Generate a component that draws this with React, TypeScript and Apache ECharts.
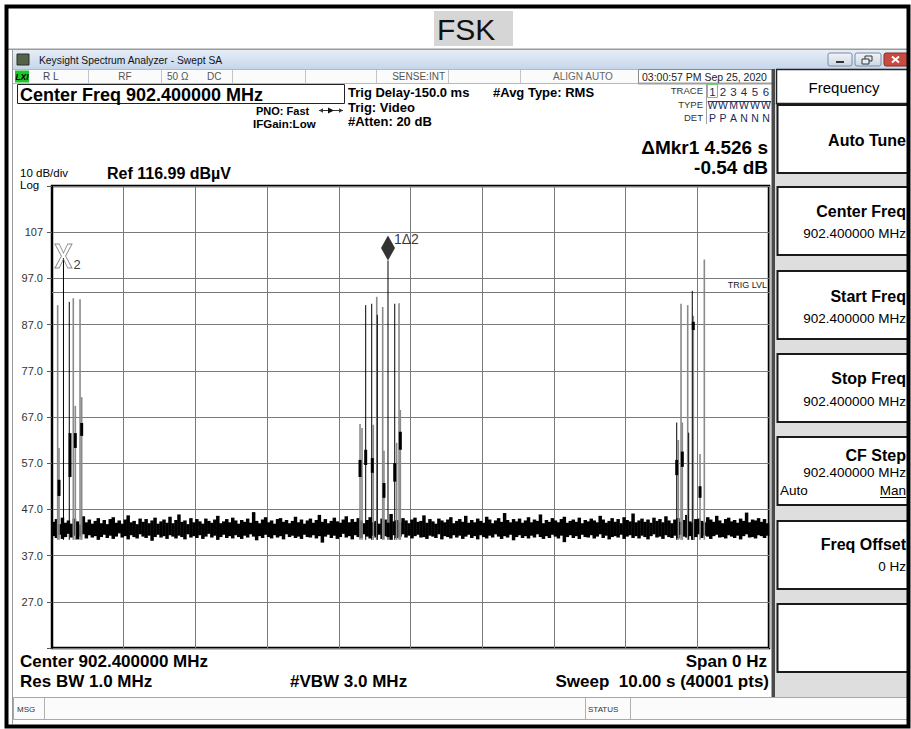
import { useEffect, useRef } from "react";
import * as echarts from "echarts";

// ---- data ----
const refLevel = 116.99;
const bottomLevel = 16.99;
const sweepSeconds = 10;
const floorLevel = 40.4;
const trigLevel = 94.1;
const yTickValues = [27, 37, 47, 57, 67, 77, 87, 97, 107];
const yTickLabels = ["27.0", "37.0", "47.0", "57.0", "67.0", "77.0", "87.0", "97.0", "107"];

// noise floor envelope (dB\u00b5V): upper and lower edge of each of 240 columns across the 10 s sweep
const noiseTop = [
  44.3,44.9,43.8,45.2,44.1,44.6,43.9,45.0,44.4,43.7,45.5,44.2,44.8,43.9,44.5,45.1,44.0,44.7,43.8,44.9,
  45.3,44.1,44.6,43.9,44.8,45.7,44.2,44.5,43.8,45.0,44.3,44.9,44.0,44.6,45.2,43.9,44.4,44.8,44.1,45.4,
  44.0,44.7,45.9,44.3,44.6,43.8,45.1,44.2,44.9,44.4,43.9,45.0,44.5,44.1,44.8,45.6,44.0,44.4,44.9,44.2,
  45.2,44.6,43.9,44.7,44.3,45.0,44.1,46.4,44.5,44.0,44.8,45.3,44.2,44.6,43.9,44.9,45.1,44.3,44.7,44.0,
  44.5,45.4,44.2,44.8,43.9,44.6,45.0,44.1,44.7,45.8,44.3,44.9,44.0,44.5,45.2,44.4,44.1,44.8,45.5,44.2,
  44.9,44.3,45.1,44.6,44.0,44.7,45.3,44.2,44.5,43.9,45.0,44.8,44.1,46.0,44.4,44.7,44.2,45.1,44.6,44.0,
  44.8,45.2,44.3,44.5,45.7,44.1,44.9,44.4,43.9,45.0,44.6,44.2,44.8,45.3,44.0,44.5,44.9,44.3,45.6,44.1,
  44.7,44.2,45.0,44.5,44.1,45.4,44.8,44.0,44.6,45.1,44.3,46.2,44.7,44.2,44.9,44.4,45.0,44.1,44.6,45.3,
  44.2,44.8,44.5,45.9,44.0,44.7,44.3,45.1,44.6,44.2,44.9,45.4,44.1,44.5,44.8,44.3,45.2,44.0,44.7,44.4,
  45.0,44.6,44.2,45.6,44.8,44.1,44.5,45.1,44.3,44.9,44.0,45.3,44.7,44.4,46.1,44.2,44.6,45.0,44.3,44.8,
  44.1,45.2,44.5,44.9,44.2,45.5,44.6,44.0,44.8,45.1,44.3,44.7,45.8,44.4,44.1,44.9,45.0,44.5,44.2,45.3,
  44.8,44.3,45.6,44.6,44.0,44.9,45.2,44.4,44.7,44.1,45.0,44.5,46.3,44.2,44.8,44.6,45.1,44.3,44.9,44.0,
];
const noiseBottom = [
  41.2,40.8,41.5,40.6,41.0,41.7,40.9,41.3,40.5,41.1,41.6,40.7,41.4,40.9,41.2,40.4,41.0,41.5,40.8,41.3,
  40.6,41.1,41.8,40.9,41.2,40.5,41.4,41.0,40.7,41.6,41.1,40.8,41.3,40.2,41.0,41.5,40.9,41.2,40.6,41.4,
  41.1,40.7,41.3,41.0,40.5,41.6,40.9,41.2,40.8,41.4,40.6,41.1,41.7,40.9,41.3,40.4,41.0,41.5,40.8,41.2,
  40.7,41.4,41.0,40.6,41.3,40.9,41.6,41.1,40.3,41.2,40.8,41.5,41.0,40.7,41.4,40.9,41.2,40.5,41.6,41.0,
  41.3,40.8,41.1,40.6,41.5,41.0,40.9,41.4,40.7,41.2,39.8,41.1,41.5,40.8,41.3,40.6,41.0,41.7,40.9,41.2,
  40.5,41.4,41.0,40.8,41.6,41.1,40.7,41.3,40.9,41.5,40.6,41.2,41.0,40.4,41.4,40.8,41.1,41.6,40.9,41.3,
  40.7,41.2,41.5,40.9,41.0,40.6,41.3,41.1,40.8,41.6,40.5,41.2,41.0,40.7,41.4,40.9,41.3,40.6,41.1,41.5,
  40.8,41.2,40.5,41.4,41.0,40.7,41.3,40.9,41.6,41.1,40.6,41.2,40.9,41.5,40.3,41.0,41.4,40.8,41.2,40.7,
  41.3,40.9,41.6,41.0,40.6,41.2,40.8,41.5,41.1,40.7,41.3,39.9,41.0,41.4,40.8,41.2,40.6,41.5,41.0,40.9,
  41.4,40.7,41.1,41.6,40.8,41.3,40.5,41.0,41.2,40.9,41.5,40.6,41.1,41.4,40.8,41.2,40.7,41.3,41.0,40.5,
  41.2,41.6,40.9,41.1,40.6,41.4,41.0,40.8,41.3,40.7,41.5,41.1,40.9,41.2,40.4,41.0,41.6,40.8,41.3,41.1,
  40.6,41.2,41.5,40.9,41.0,40.7,41.4,41.1,40.8,41.3,40.5,41.2,41.6,40.9,41.0,40.7,41.4,41.2,40.8,41.3,
];

// FSK burst lines: time (s), peak (dB\u00b5V), tone (g = grey trace, k = black trace)
const burstTimes = [
  0.079, 0.098, 0.160, 0.241, 0.297, 0.325, 0.391, 0.414,
  4.296, 4.324, 4.375, 4.459, 4.481, 4.529, 4.537, 4.612, 4.630, 4.686, 4.780, 4.807, 4.840, 4.858,
  8.713, 8.735, 8.773, 8.791, 8.866, 8.880, 8.930, 8.944, 9.038, 9.098,
];
const burstPeaks = [
  91.2, 60.3, 101.4, 91.9, 92.7, 69.4, 92.5, 71.3,
  65.5, 64.6, 91.2, 91.5, 65.3, 93.0, 89.1, 90.8, 59.7, 100.86, 91.5, 61.4, 91.6, 68.5,
  65.8, 62.0, 91.5, 65.8, 91.2, 63.6, 94.3, 88.9, 59.0, 101.1,
];
const burstTones = [
  "g", "g", "k", "k", "g", "g", "g", "g",
  "g", "g", "k", "k", "g", "g", "k", "g", "g", "k", "k", "g", "g", "g",
  "k", "g", "g", "g", "g", "k", "k", "g", "g", "g",
];

// short dense (thick) trace segments
const segTimes = [0.098, 0.251, 0.325, 0.414, 4.296, 4.375, 4.467, 4.630, 4.780, 4.858, 8.713, 8.791, 8.944, 9.038];
const segLows = [49.9, 54.0, 60.3, 62.9, 54.0, 56.6, 54.9, 49.5, 53.0, 59.9, 54.4, 56.2, 85.8, 49.5];
const segHighs = [53.4, 63.5, 63.5, 65.7, 57.7, 59.9, 58.1, 52.7, 57.0, 63.8, 57.7, 59.5, 87.6, 52.0];

const marker2 = [0.16, 101.4];
const marker1 = [4.686, 100.86];

const F = '"Liberation Sans", Arial, sans-serif';

function txt(text: string, x: number, y: number, size: number, opt: any = {}) {
  return {
    type: "text",
    x,
    y,
    z: 20,
    silent: true,
    style: {
      text,
      font: `${opt.italic ? "italic " : ""}${opt.bold ? "bold " : ""}${size}px ${opt.family || F}`,
      fill: opt.fill || "#000",
      textAlign: opt.align || "left",
      textVerticalAlign: "middle",
    },
  };
}
function rect(x: number, y: number, w: number, h: number, style: any, z = 1) {
  return { type: "rect", z, silent: true, shape: { x, y, width: w, height: h }, style };
}
function ln(x1: number, y1: number, x2: number, y2: number, stroke: string, lineWidth = 1, z = 5) {
  return { type: "line", z, silent: true, shape: { x1, y1, x2, y2 }, style: { stroke, lineWidth } };
}

function buildGraphic() {
  const g: any[] = [];
  // title tag
  g.push(rect(434, 11, 79, 35, { fill: "#d6d6d6" }));
  g.push(txt("FSK", 437, 29, 30, { fill: "#111" }));
  g.push(rect(8, 48.5, 900, 1.5, { fill: "#9a9a9a" }));
  // window outline
  g.push(ln(12.5, 50, 12.5, 724, "#9a9a9a", 1));
  // title bar
  g.push(
    rect(12, 50, 896, 19, {
      fill: {
        type: "linear", x: 0, y: 0, x2: 0, y2: 1,
        colorStops: [{ offset: 0, color: "#e6eef8" }, { offset: 1, color: "#c6d6ea" }],
      },
    })
  );
  g.push(rect(17, 54, 12, 11, { fill: "#55624a", stroke: "#2b3326", lineWidth: 1 }));
  g.push(txt("Keysight Spectrum Analyzer - Swept SA", 39, 60, 10.3, { fill: "#111" }));
  const btnFill = {
    type: "linear", x: 0, y: 0, x2: 0, y2: 1,
    colorStops: [{ offset: 0, color: "#f2f5f9" }, { offset: 1, color: "#cdd6e2" }],
  };
  g.push({ type: "rect", z: 2, shape: { x: 828, y: 53, width: 24, height: 13, r: 2 }, style: { fill: btnFill, stroke: "#7d8ca3", lineWidth: 1 } });
  g.push(rect(836, 61, 8, 2, { fill: "#333" }, 3));
  g.push({ type: "rect", z: 2, shape: { x: 855, y: 53, width: 26, height: 13, r: 2 }, style: { fill: btnFill, stroke: "#7d8ca3", lineWidth: 1 } });
  g.push(rect(865, 56, 7, 5, { fill: "none", stroke: "#333", lineWidth: 1 }, 3));
  g.push(rect(862, 59, 7, 5, { fill: "#e9edf3", stroke: "#333", lineWidth: 1 }, 4));
  g.push({ type: "rect", z: 2, shape: { x: 884, y: 53, width: 24, height: 13, r: 2 }, style: { fill: "#c94b3f", stroke: "#8a2d25", lineWidth: 1 } });
  g.push(ln(892, 56.5, 899, 62.5, "#fff", 2, 3));
  g.push(ln(899, 56.5, 892, 62.5, "#fff", 2, 3));

  // status row
  g.push(rect(12.5, 69.5, 760, 14, { fill: "#fbfbfb", stroke: "#b8b8b8", lineWidth: 1 }));
  [88, 161, 232, 305, 376, 448, 520].forEach((x) => g.push(ln(x + 0.5, 70, x + 0.5, 83, "#c4c4c4", 1, 3)));
  g.push(rect(15, 70.5, 14, 12, { fill: "#1fc52a" }, 3));
  g.push(txt("LXI", 22, 76.5, 8.5, { bold: true, italic: true, align: "center" }));
  g.push(txt("R L", 43, 76.5, 10, { fill: "#444" }));
  g.push(txt("RF", 125, 76.5, 10, { fill: "#555", align: "center" }));
  g.push(txt("50 \u03a9", 167, 76.5, 10, { fill: "#555" }));
  g.push(txt("DC", 207, 76.5, 10, { fill: "#555" }));
  g.push(txt("SENSE:INT", 445, 76.5, 10, { fill: "#555", align: "right" }));
  g.push(txt("ALIGN AUTO", 553, 76.5, 10, { fill: "#666" }));
  g.push(rect(638.5, 69.5, 134, 14, { fill: "#fff", stroke: "#8a8a8a", lineWidth: 1 }, 2));
  g.push(txt("03:00:57 PM Sep 25, 2020", 642, 76.5, 10.5, { fill: "#222" }));
  g.push(rect(638, 82.5, 135, 2, { fill: "#a0a0a0" }, 3));

  // header
  g.push(rect(17.5, 84.5, 327, 19, { fill: "#fff", stroke: "#222", lineWidth: 1 }));
  g.push(txt("Center Freq 902.400000 MHz", 20, 94.5, 18, { bold: true }));
  g.push(txt("PNO: Fast", 256, 110.5, 11, { bold: true }));
  g.push(ln(319, 110.5, 343, 110.5, "#333", 1));
  g.push({ type: "polygon", z: 5, shape: { points: [[319, 110.5], [323, 108.3], [323, 112.7]] }, style: { fill: "#333" } });
  g.push({ type: "polygon", z: 5, shape: { points: [[343, 110.5], [339, 108.3], [339, 112.7]] }, style: { fill: "#333" } });
  g.push({ type: "polygon", z: 5, shape: { points: [[328, 107.5], [334, 110.5], [328, 113.5]] }, style: { fill: "#111" } });
  g.push(txt("IFGain:Low", 253, 123.5, 11.5, { bold: true }));
  g.push(txt("Trig Delay-150.0 ms", 348, 92, 13, { bold: true }));
  g.push(txt("Trig: Video", 348, 107, 13, { bold: true }));
  g.push(txt("#Atten: 20 dB", 348, 121.5, 13, { bold: true }));
  g.push(txt("#Avg Type: RMS", 493, 92, 13, { bold: true }));
  // trace block
  g.push(ln(706.5, 84, 706.5, 124, "#a0a0a0", 1));
  g.push(txt("TRACE", 703, 90.5, 9.5, { fill: "#333", align: "right" }));
  g.push(txt("TYPE", 703, 104, 9.5, { fill: "#333", align: "right" }));
  g.push(txt("DET", 703, 117.5, 9.5, { fill: "#333", align: "right" }));
  g.push(rect(707.5, 84.5, 10, 13, { fill: "none", stroke: "#6ccf6c", lineWidth: 1 }, 3));
  const tx = [712.5, 723, 733.5, 744, 755, 766];
  const nums = ["1", "2", "3", "4", "5", "6"];
  const typ = ["W", "W", "M", "W", "W", "W"];
  const det = ["P", "P", "A", "N", "N", "N"];
  tx.forEach((x, i) => {
    g.push(txt(nums[i], x, 91.5, 11.5, { fill: "#1a2a5a", align: "center" }));
    g.push(txt(typ[i], x, 104.5, 10.5, { fill: "#1a2a5a", align: "center" }));
    g.push(txt(det[i], x, 117.5, 10.5, { fill: "#1a2a5a", align: "center" }));
  });
  g.push(ln(708, 101.5, 771, 101.5, "#333", 1, 25));

  g.push(txt("\u0394Mkr1 4.526 s", 768, 147.5, 19, { bold: true, align: "right" }));
  g.push(txt("-0.54 dB", 768, 167.5, 19, { bold: true, align: "right" }));
  g.push(txt("10 dB/div", 20, 173, 11.5));
  g.push(txt("Log", 20, 184.5, 11.5));
  g.push(txt("Ref 116.99 dB\u00b5V", 107, 173, 16, { bold: true }));

  // right soft-key panel
  g.push(rect(775, 103, 134, 594, { fill: "#dedede" }));
  g.push(rect(771.5, 69, 3.5, 628, { fill: "#4a4a4a" }, 3));
  g.push(rect(776.5, 69.5, 132, 34, { fill: "#fff", stroke: "#222", lineWidth: 1.5 }, 2));
  g.push(txt("Frequency", 844, 87, 15, { align: "center" }));
  const tops = [105, 187, 271, 354, 437, 521, 604];
  tops.forEach((t) => g.push(rect(777.5, t, 131, 68, { fill: "#fff", stroke: "#1a1a1a", lineWidth: 2 }, 2)));
  g.push(txt("Auto Tune", 906, 140, 16, { bold: true, align: "right" }));
  g.push(txt("Center Freq", 906, 211, 16, { bold: true, align: "right" }));
  g.push(txt("902.400000 MHz", 906, 233, 13.5, { align: "right" }));
  g.push(txt("Start Freq", 906, 296, 16, { bold: true, align: "right" }));
  g.push(txt("902.400000 MHz", 906, 318, 13.5, { align: "right" }));
  g.push(txt("Stop Freq", 906, 378.5, 16, { bold: true, align: "right" }));
  g.push(txt("902.400000 MHz", 906, 401, 13.5, { align: "right" }));
  g.push(txt("CF Step", 906, 455, 16, { bold: true, align: "right" }));
  g.push(txt("902.400000 MHz", 906, 472.5, 13.5, { align: "right" }));
  g.push(txt("Auto", 780, 490, 13.5));
  g.push(txt("Man", 906, 490, 13.5, { align: "right" }));
  g.push(ln(880, 497.5, 906, 497.5, "#000", 1, 25));
  g.push(txt("Freq Offset", 906, 544, 16, { bold: true, align: "right" }));
  g.push(txt("0 Hz", 906, 566, 13.5, { align: "right" }));

  // bottom annotations
  g.push(txt("Center 902.400000 MHz", 20, 661, 17, { bold: true }));
  g.push(txt("Res BW 1.0 MHz", 20, 681, 17, { bold: true }));
  g.push(txt("#VBW 3.0 MHz", 290, 681, 17, { bold: true }));
  g.push(txt("Span 0 Hz", 767, 661, 17, { bold: true, align: "right" }));
  g.push(txt("Sweep  10.00 s (40001 pts)", 769, 681, 17, { bold: true, align: "right" }));

  // message bar
  g.push(rect(13.5, 697.5, 894, 22, { fill: "#fbfbfb", stroke: "#a8a8a8", lineWidth: 1 }, 2));
  [44, 585, 630].forEach((x) => g.push(ln(x + 0.5, 698, x + 0.5, 719, "#b0b0b0", 1, 3)));
  g.push(txt("MSG", 17, 709, 8, { fill: "#333" }));
  g.push(txt("STATUS", 588, 709, 8, { fill: "#333" }));

  // outer black frame
  g.push(rect(6.5, 6.5, 902, 720, { fill: "none", stroke: "#000", lineWidth: 4 }, 40));
  return g;
}

function lineRender(width: number, color: string) {
  return (params: any, api: any) => {
    const a = api.coord([api.value(0), api.value(1)]);
    const b = api.coord([api.value(0), api.value(2)]);
    return {
      type: "line",
      shape: { x1: a[0], y1: a[1], x2: b[0], y2: b[1] },
      style: { stroke: color, lineWidth: width },
    };
  };
}

export default function App() {
  const ref = useRef<HTMLDivElement>(null);
  useEffect(() => {
    if (!ref.current) return;
    const chart = echarts.init(ref.current, undefined, { renderer: "svg" });
    const n = noiseTop.length;
    const colStep = sweepSeconds / n;
    const noiseCols = noiseTop.map((v, i) => [(i + 0.5) * colStep, noiseBottom[i], v]);
    const noiseRender = (params: any, api: any) => {
      const a = api.coord([api.value(0), api.value(1)]);
      const b = api.coord([api.value(0), api.value(2)]);
      const w = api.size([colStep, 0])[0] + 0.5;
      return {
        type: "line",
        shape: { x1: a[0], y1: a[1], x2: b[0], y2: b[1] },
        style: { stroke: "#000", lineWidth: w },
      };
    };
    const grey: any[] = [];
    const black: any[] = [];
    burstTimes.forEach((t, i) => {
      const item = [t, floorLevel, burstPeaks[i]];
      if (burstTones[i] === "k") black.push(item);
      else grey.push(item);
    });
    const segs = segTimes.map((t, i) => [t, segLows[i], segHighs[i]]);

    chart.setOption({
      animation: false,
      backgroundColor: "#fff",
      grid: {
        left: 52, top: 186, width: 717, height: 462,
        show: true, borderColor: "#000", borderWidth: 2.5, backgroundColor: "transparent",
      },
      xAxis: {
        type: "value", min: 0, max: sweepSeconds, interval: 1,
        axisLine: { show: false }, axisTick: { show: false }, axisLabel: { show: false },
        splitLine: { show: true, lineStyle: { color: "#7a7a7a", width: 1 } },
      },
      yAxis: {
        type: "value", min: bottomLevel, max: refLevel, interval: 10,
        axisLine: { show: true, lineStyle: { color: "#000", width: 2 } },
        axisTick: { show: true, length: 5, lineStyle: { color: "#555" } },
        axisLabel: {
          margin: 9, fontSize: 11, color: "#333", fontFamily: F,
          formatter: (v: number) => {
            const k = yTickValues.indexOf(Math.round(v));
            return k >= 0 ? yTickLabels[k] : "";
          },
        },
        splitLine: { show: true, lineStyle: { color: "#7a7a7a", width: 1 } },
      },
      series: [
        { type: "custom", renderItem: noiseRender, data: noiseCols, encode: { x: 0, y: [1, 2] }, z: 3 },
        { type: "custom", renderItem: lineRender(1.6, "#8a8a8a"), data: grey, encode: { x: 0, y: [1, 2] }, z: 4 },
        { type: "custom", renderItem: lineRender(1, "#000"), data: black, encode: { x: 0, y: [1, 2] }, z: 5 },
        { type: "custom", renderItem: lineRender(3, "#000"), data: segs, encode: { x: 0, y: [1, 2] }, z: 6 },
        {
          type: "scatter", data: [marker2], z: 8,
          symbol: "path://M0 0 L5 0 L10 9 L15 0 L20 0 L12.5 12 L20 24 L15 24 L10 15 L5 24 L0 24 L7.5 12 Z",
          symbolSize: [17, 24], symbolOffset: [0, -2],
          itemStyle: { color: "transparent", borderColor: "#6f6f6f", borderWidth: 1 },
          label: { show: true, formatter: "2", position: "right", offset: [-4, 8], fontSize: 13, color: "#000", fontFamily: F },
          markLine: {
            silent: true, symbol: "none",
            data: [{ yAxis: trigLevel }],
            lineStyle: { color: "#777", width: 1, type: "solid" },
            label: { show: true, position: "insideEndTop", formatter: "TRIG LVL", fontSize: 9, color: "#222", fontFamily: F, distance: 2 },
          },
        },
        {
          type: "scatter", data: [marker1], z: 8,
          symbol: "diamond", symbolSize: [14, 25], symbolOffset: [0, -12.5],
          itemStyle: { color: "#000" },
          label: { show: true, formatter: "1\u03942", position: "right", offset: [-6, -9], fontSize: 14, color: "#000", fontFamily: F },
        },
      ],
      graphic: buildGraphic(),
    });
    return () => chart.dispose();
  }, []);
  return <div ref={ref} style={{ position: "fixed", left: 0, top: 0, width: 911, height: 729 }} />;
}
